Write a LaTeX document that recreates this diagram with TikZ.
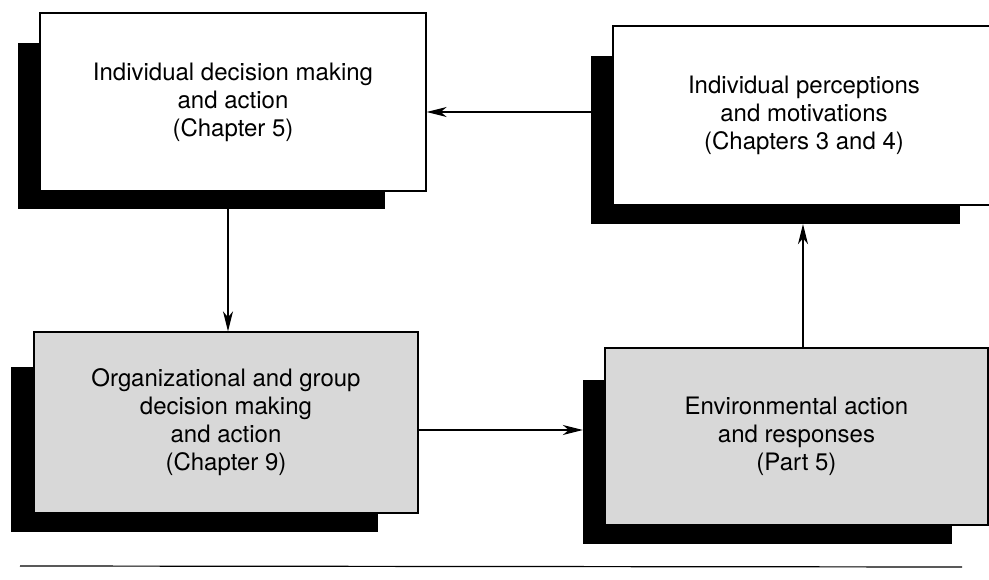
\documentclass[tikz,border=0pt]{standalone}
\usepackage{fontspec}
\setmainfont{TeX Gyre Heros}
\usetikzlibrary{arrows.meta}
\definecolor{boxgray}{RGB}{216,216,216}
\tikzset{
  mainbox/.style={draw=black, line width=1.4pt, inner sep=0pt, align=center,
    font=\fontsize{24}{28}\selectfont},
  whitebox/.style={mainbox, fill=white},
  graybox/.style={mainbox, fill=boxgray},
  shadowbox/.style={fill=black, draw=none, inner sep=0pt},
  arr/.style={line width=1.2pt, -{Stealth[length=20pt,width=10pt,inset=6pt]}},
  rule/.style={line width=1.2pt}
}
\begin{document}
\begin{tikzpicture}[x=1pt,y=-1pt]
\useasboundingbox (0,0) rectangle (989,580);
\fill[white] (0,0) rectangle (989,580);
\clip (0,0) rectangle (989,580);
% shadows
\node[shadowbox, minimum width=367pt, minimum height=166pt] (s1) at (201.5,126) {};
\node[shadowbox, minimum width=369pt, minimum height=168pt] (s2) at (775.5,140) {};
\node[shadowbox, minimum width=367pt, minimum height=165pt] (s3) at (194.5,449.5) {};
\node[shadowbox, minimum width=369pt, minimum height=164pt] (s4) at (767.5,462) {};
% boxes
\node[whitebox, minimum width=386pt, minimum height=178pt] (b1) at (233,102)
  {Individual decision making\\and action\\(Chapter 5)};
\node[whitebox, minimum width=382pt, minimum height=179pt] (b2) at (804,115.5)
  {Individual perceptions\\and motivations\\(Chapters 3 and 4)};
\node[graybox, minimum width=384pt, minimum height=181pt] (b3) at (226,422.5)
  {Organizational and group\\decision making\\and action\\(Chapter 9)};
\node[graybox, minimum width=383pt, minimum height=177pt] (b4) at (796.5,436.5)
  {Environmental action\\and responses\\(Part 5)};
% helper coordinates for connector lines
\coordinate (ya) at (0,112);
\coordinate (xb) at (228,0);
\coordinate (yc) at (0,430);
\coordinate (xd) at (803,0);
% connectors
\draw[arr] (s2.west |- ya) -- (b1.east |- ya);
\draw[arr] (xb |- s1.south) -- (xb |- b3.north);
\draw[arr] (b3.east |- yc) -- (s4.west |- yc);
\draw[arr] (xd |- b4.north) -- (xd |- s2.south);
% bottom rule
\coordinate (r1) at (20,566);
\coordinate (r2) at (962,567);
\draw[rule] (r1) -- (r2);
\end{tikzpicture}
\end{document}
